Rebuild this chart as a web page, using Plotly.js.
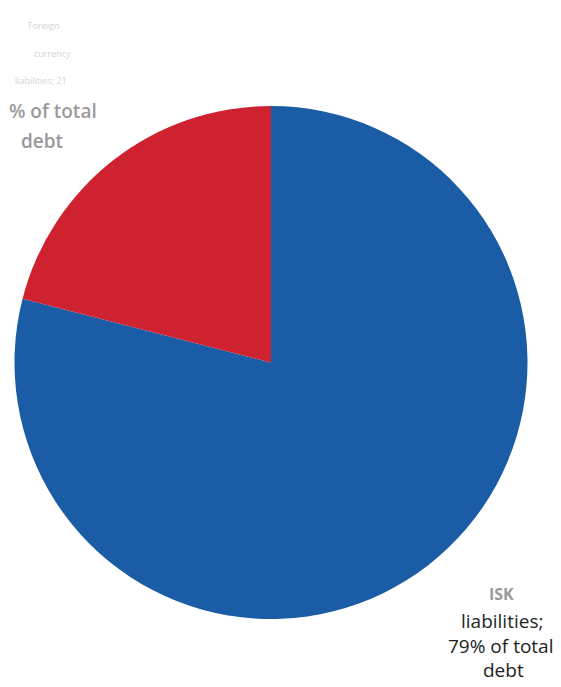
<!DOCTYPE html>
<html>
<head>
<meta charset="utf-8">
<script src="https://cdn.plot.ly/plotly-3.0.1.min.js"></script>
<style>html,body{margin:0;padding:0;background:#fff;}#chart{width:561px;height:687px;}</style>
</head>
<body>
<div id="chart"></div>
<script>
var labels = ["ISK liabilities", "Foreign currency liabilities"];
var values = [79, 21];
var colors = ["#1b5ca6", "#cf2230"];

var W = 561, H = 687;
function px(x){ return x / W; }
function py(y){ return 1 - y / H; }

var fxLines = [
  {t: "Foreign", x: 43, y: 25, c: "#d4d4d4", s: 9},
  {t: "currency", x: 52, y: 54, c: "#d4d4d4", s: 9},
  {t: "liabilities; " + values[1], x: 41, y: 80, c: "#d4d4d4", s: 9},
  {t: "% of total", x: 53, y: 111, c: "#9a9a9a", s: 19, w: 600},
  {t: "debt", x: 42, y: 141, c: "#9a9a9a", s: 19, w: 600}
];
var iskLines = [
  {t: "ISK", x: 501, y: 594, c: "#9a9a9a", s: 16, w: 700},
  {t: "liabilities;", x: 502, y: 621, c: "#262626", s: 19},
  {t: values[0] + "% of total", x: 500, y: 646, c: "#1e1e1e", s: 19},
  {t: "debt", x: 503, y: 670, c: "#1e1e1e", s: 19}
];

var annotations = fxLines.concat(iskLines).map(function(l){
  return {
    text: l.t, xref: "paper", yref: "paper",
    x: px(l.x), y: py(l.y), xanchor: "center", yanchor: "middle",
    showarrow: false,
    font: {family: "Open Sans, sans-serif", size: l.s, color: l.c, weight: l.w || 400}
  };
});

var data = [{
  type: "pie",
  labels: labels,
  values: values,
  sort: false,
  direction: "clockwise",
  rotation: 0,
  marker: {colors: colors, line: {width: 0}},
  textinfo: "none",
  hoverinfo: "label+percent",
  domain: {x: [14 / W, 528 / W], y: [(687 - 619) / H, (687 - 106) / H]}
}];

var layout = {
  width: W, height: H,
  margin: {l: 0, r: 0, t: 0, b: 0},
  paper_bgcolor: "#ffffff",
  showlegend: false,
  annotations: annotations
};

Plotly.newPlot("chart", data, layout, {displayModeBar: false, staticPlot: true});
</script>
</body>
</html>
